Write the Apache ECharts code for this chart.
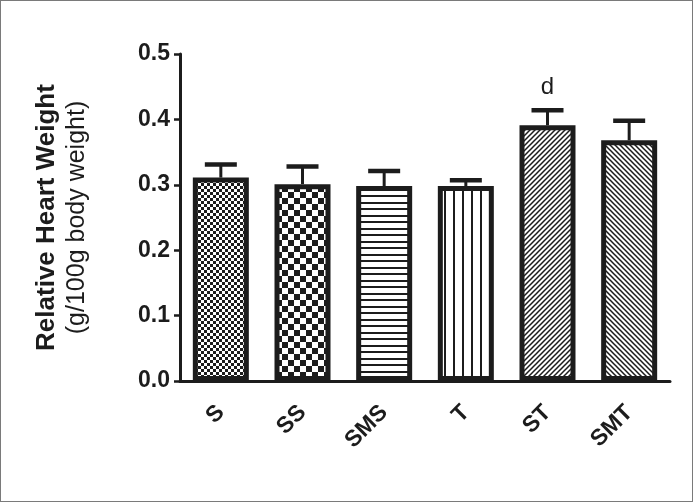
<!DOCTYPE html>
<html>
<head>
<meta charset="utf-8">
<script src="https://cdn.jsdelivr.net/npm/echarts@6/dist/echarts.min.js"></script>
<style>
  body { margin: 0; background: #fff; }
  #chart { width: 693px; height: 502px; }
  #frame { position: absolute; left: 0; top: 0; width: 693px; height: 502px; box-sizing: border-box; border: 1px solid #7a7a7a; pointer-events: none; }
</style>
</head>
<body>
<div id="chart"></div>
<div id="frame"></div>
<script>
// data
var categories = ['S', 'SS', 'SMS', 'T', 'ST', 'SMT'];
var means = [0.311, 0.301, 0.298, 0.298, 0.391, 0.368];
var errors = [0.020, 0.027, 0.023, 0.009, 0.023, 0.030];
var marks = ['', '', '', '', 'd', ''];

var INK = '#1c1c1c';
var FONT = '"Liberation Sans", Arial, sans-serif';

// small canvas tiles for the hatch fills
function tile(w, h, draw) {
  var c = document.createElement('canvas');
  c.width = w; c.height = h;
  var ctx = c.getContext('2d');
  ctx.fillStyle = '#fff';
  ctx.fillRect(0, 0, w, h);
  ctx.fillStyle = INK;
  ctx.strokeStyle = INK;
  draw(ctx, w, h);
  return { image: c, repeat: 'repeat' };
}
function checker(n) {
  return tile(n * 2, n * 2, function (ctx) {
    ctx.fillRect(0, 0, n, n);
    ctx.fillRect(n, n, n, n);
  });
}
function diag(s, back) {
  return tile(s, s, function (ctx) {
    ctx.lineWidth = 1.5;
    ctx.beginPath();
    if (!back) {
      ctx.moveTo(-1, s + 1); ctx.lineTo(s + 1, -1);
      ctx.moveTo(-2, 2); ctx.lineTo(2, -2);
      ctx.moveTo(s - 2, s + 2); ctx.lineTo(s + 2, s - 2);
    } else {
      ctx.moveTo(-1, -1); ctx.lineTo(s + 1, s + 1);
      ctx.moveTo(-2, s - 2); ctx.lineTo(2, s + 2);
      ctx.moveTo(s - 2, -2); ctx.lineTo(s + 2, 2);
    }
    ctx.stroke();
  });
}
var fills = [
  checker(3),
  checker(6),
  tile(4, 13, function (ctx) { ctx.fillRect(0, 0, 4, 2); ctx.fillRect(0, 7, 4, 2); }),
  tile(9, 4, function (ctx) { ctx.fillRect(3, 0, 2, 4); }),
  diag(5, false),
  diag(5, true)
];

var chart = echarts.init(document.getElementById('chart'));

var option = {
  animation: false,
  backgroundColor: '#fff',
  grid: { left: 180, right: 23, top: 54, bottom: 121 },
  xAxis: {
    type: 'category',
    data: categories,
    axisLine: { lineStyle: { color: INK, width: 3 } },
    axisTick: { alignWithLabel: true, length: 9, lineStyle: { color: INK, width: 2.5 } },
    axisLabel: {
      rotate: 45, margin: 28,
      color: INK, fontFamily: FONT, fontWeight: 'bold', fontSize: 23
    }
  },
  yAxis: {
    type: 'value',
    min: 0, max: 0.5, interval: 0.1,
    splitLine: { show: false },
    axisLine: { show: true, lineStyle: { color: INK, width: 3 } },
    axisTick: { show: true, length: 6, lineStyle: { color: INK, width: 2.5 } },
    axisLabel: {
      margin: 10, color: INK, fontFamily: FONT, fontWeight: 'bold', fontSize: 23,
      formatter: function (v) { return v.toFixed(1); }
    },
    name: '{a|Relative Heart Weight}\n{b|(g/100g body weight)}',
    nameLocation: 'middle',
    nameRotate: 90,
    nameGap: 87,
    nameTextStyle: {
      rich: {
        a: { fontFamily: FONT, fontWeight: 'bold', fontSize: 26, lineHeight: 31, color: INK },
        b: { fontFamily: FONT, fontSize: 25, lineHeight: 31, color: INK }
      }
    }
  },
  series: [
    {
      type: 'bar',
      barWidth: 56,
      data: means.map(function (v, i) {
        return { value: v, itemStyle: { color: fills[i] } };
      }),
      itemStyle: { borderColor: INK, borderWidth: 5 },
      z: 3
    },
    {
      type: 'custom',
      data: means.map(function (v, i) { return [i, v, v + errors[i]]; }),
      renderItem: function (params, api) {
        var i = api.value(0);
        var base = api.coord([i, api.value(1)]);
        var top = api.coord([i, api.value(2)]);
        var half = 16;
        var kids = [
          { type: 'line', shape: { x1: base[0], y1: base[1], x2: top[0], y2: top[1] },
            style: { stroke: INK, lineWidth: 3 } },
          { type: 'line', shape: { x1: top[0] - half, y1: top[1], x2: top[0] + half, y2: top[1] },
            style: { stroke: INK, lineWidth: 4.5 } }
        ];
        if (marks[i]) {
          kids.push({ type: 'text', x: top[0], y: top[1] - 11,
            style: { text: marks[i], fill: INK, font: '24px ' + FONT, textAlign: 'center', textVerticalAlign: 'bottom' } });
        }
        return { type: 'group', children: kids };
      },
      z: 2
    }
  ]
};

chart.setOption(option);
</script>
</body>
</html>
